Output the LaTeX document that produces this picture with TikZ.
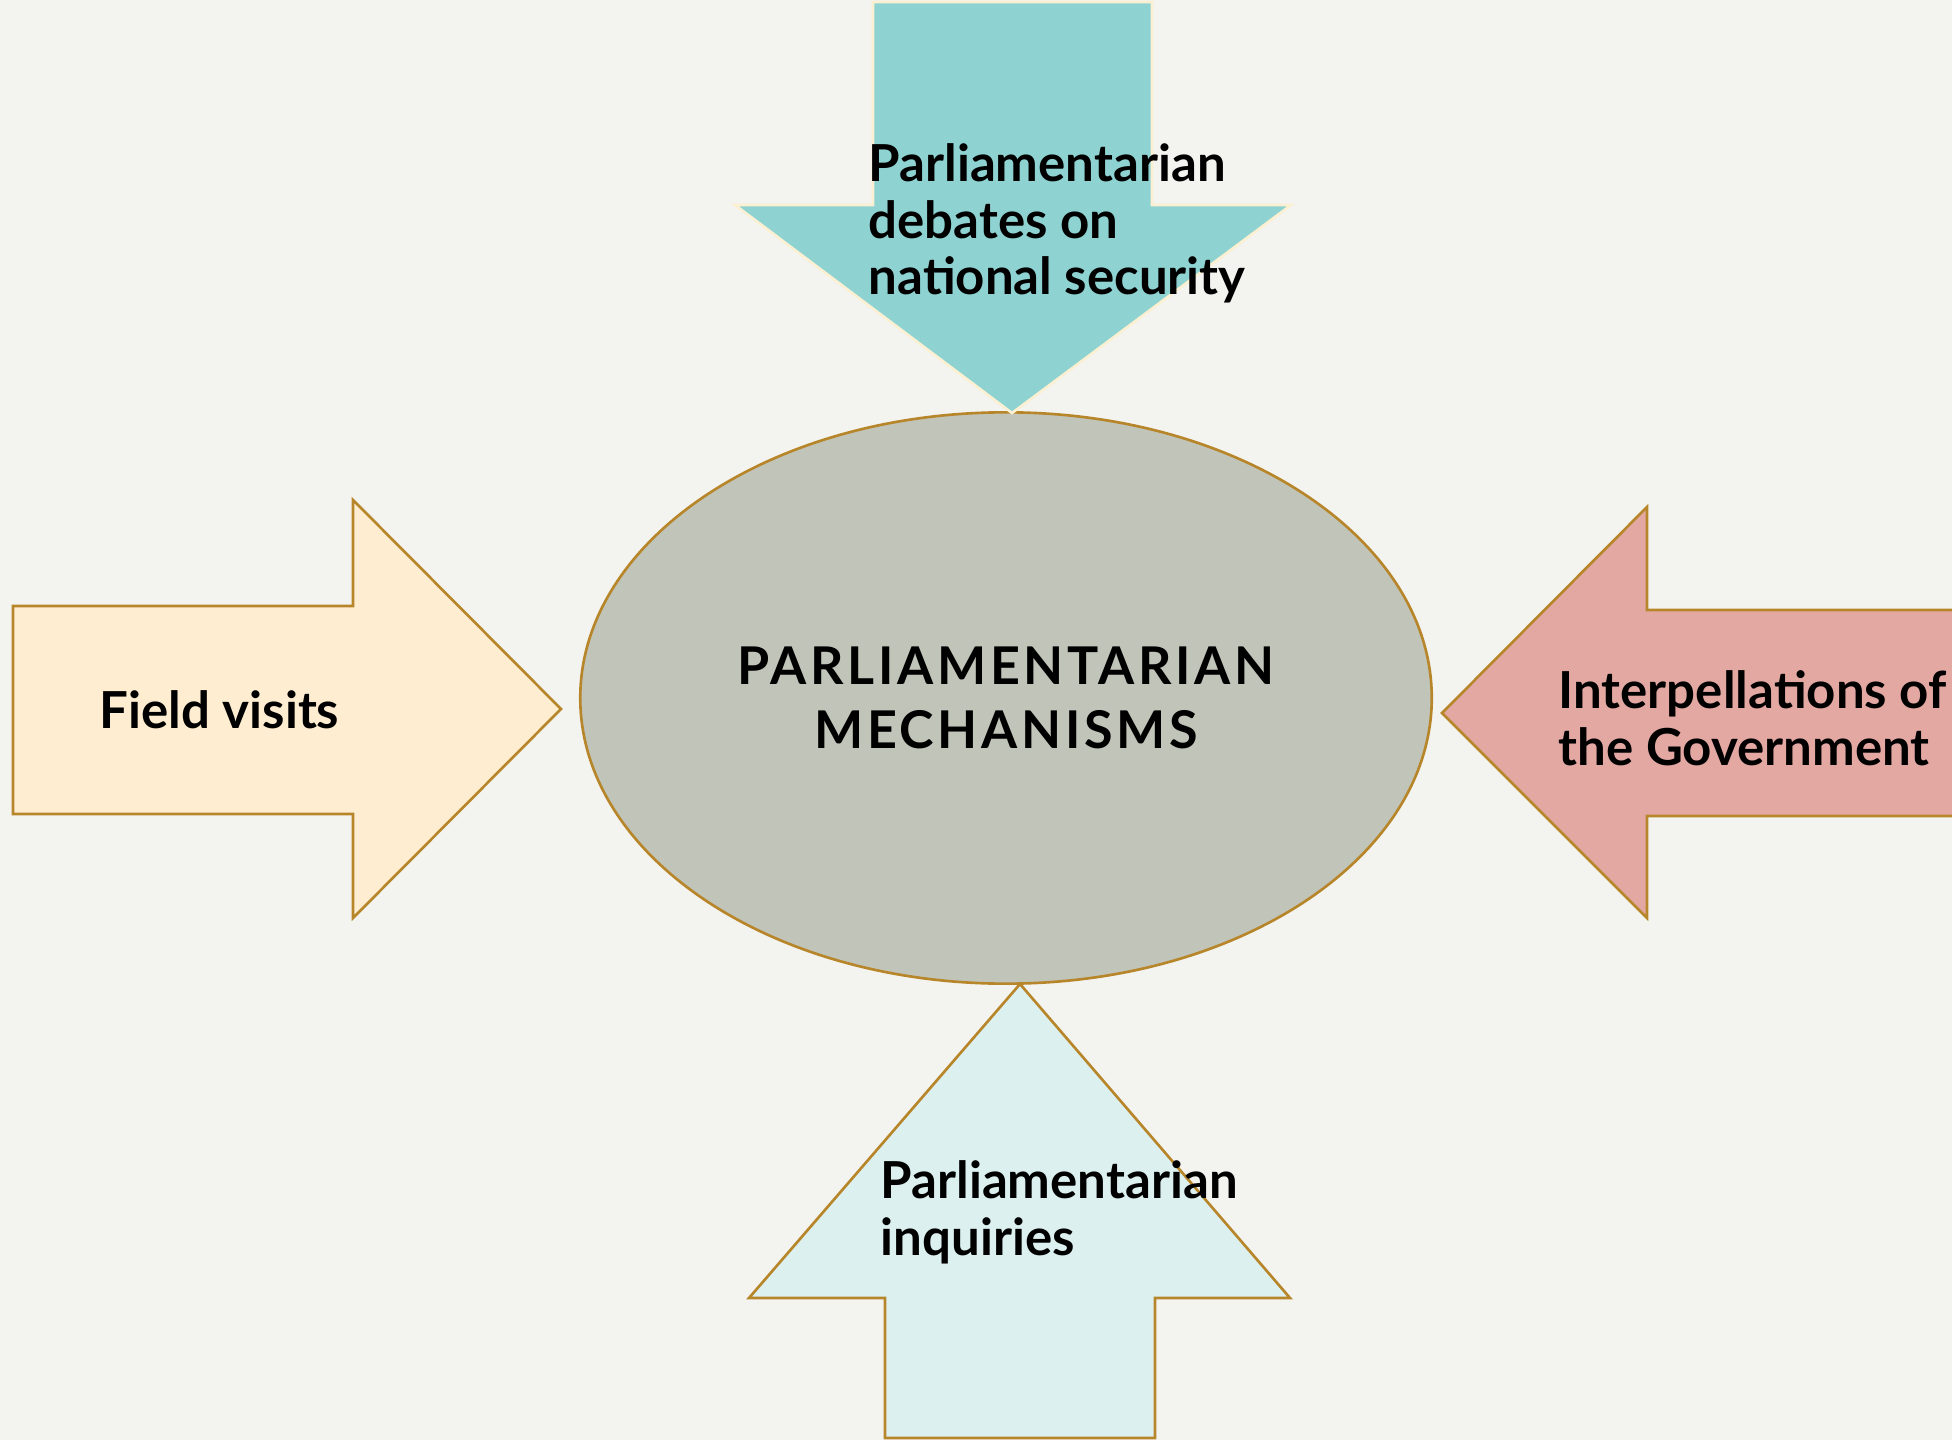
\documentclass[tikz,border=0pt]{standalone}
\usepackage{fontspec}
\setmainfont{Lato}
\newfontfamily\titlefont[LetterSpace=7]{Lato}
\usetikzlibrary{shapes.geometric}

\definecolor{papercol}{HTML}{F3F3F0}
\definecolor{rimcol}{HTML}{B8862A}
\definecolor{creamcol}{HTML}{FBF0D2}
\definecolor{mechcol}{HTML}{C1C4B9}
\definecolor{debatecol}{HTML}{8ED2D2}
\definecolor{visitcol}{HTML}{FEEDD0}
\definecolor{interpcol}{HTML}{E4A8A3}
\definecolor{inquirycol}{HTML}{DCF0F0}

\tikzset{
    rim/.style={draw=rimcol, line width=0.75pt},
    tagtext/.style={anchor=base west, align=left, inner sep=0pt,
        font=\fontsize{14.5}{16.2}\selectfont\bfseries}
}

\begin{document}
\begin{tikzpicture}[x=0.01cm,y=-0.01cm]
        %% Page
        \fill[papercol] (0,0) rectangle (1952,1440);
        \useasboundingbox (0,0) rectangle (1952,1440);
        %% Centre Ellipse
        \node[ellipse, rim, fill=mechcol, minimum width=8.51cm,
            minimum height=5.71cm, align=center,
            font=\titlefont\fontsize{14.8}{18.2}\selectfont\bfseries]
            (mech) at (1006,698) {PARLIAMENTARIAN\\MECHANISMS};
        %% Top Arrow
        \draw[draw=creamcol, line width=0.75pt, fill=debatecol]
            (873,2) -- (1152,2) -- (1152,205) -- (1291,205)
            -- (1012,413) -- (735,205) -- (873,205) -- cycle;
        %% Left Arrow
        \draw[rim, fill=visitcol]
            (13,606) -- (353,606) -- (353,500) -- (561,709)
            -- (353,918) -- (353,814) -- (13,814) -- cycle;
        %% Right Arrow
        \draw[rim, fill=interpcol]
            (1965,610) -- (1647,610) -- (1647,507) -- (1442,713)
            -- (1647,918) -- (1647,816) -- (1965,816);
        %% Bottom Arrow
        \draw[rim, fill=inquirycol]
            (885,1438) -- (885,1298) -- (749,1298) -- (1020,984)
            -- (1290,1298) -- (1155,1298) -- (1155,1438) -- cycle;
        %% Labels (anchored on the last line)
        \node[tagtext] (debates) at (868,295)
            {Parliamentarian\\debates on\\national security};
        \node[tagtext] (visits) at (99,728) {Field visits};
        \node[tagtext] (interp) at (1558,765)
            {Interpellations of\\the Government};
        \node[tagtext] (inquiry) at (880,1255)
            {Parliamentarian\\inquiries};
    \end{tikzpicture}
\end{document}
